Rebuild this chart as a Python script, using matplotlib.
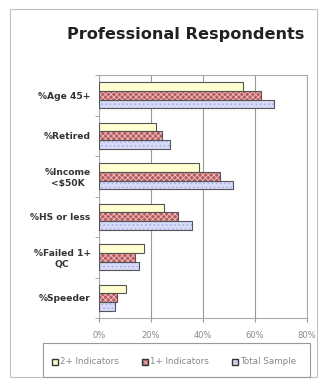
import matplotlib
matplotlib.use("Agg")
import matplotlib.pyplot as plt
from matplotlib.patches import Rectangle
import numpy as np

plt.rcParams['font.family'] = ['DejaVu Sans']
plt.rcParams['hatch.linewidth'] = 0.6

categories = ["%Age 45+", "%Retired", "%Income\n<\\$50K", "%HS or less", "%Failed 1+\nQC", "%Speeder"]
series_names = ["2+ Indicators", "1+ Indicators", "Total Sample"]
two_plus = [55.5, 22.0, 38.5, 25.0, 17.3, 10.4]
one_plus = [62.3, 24.4, 46.7, 30.4, 14.0, 7.0]
total = [67.3, 27.3, 51.6, 35.6, 15.5, 6.0]
xticks = [0, 20, 40, 60, 80]
xticklabels = ["0%", "20%", "40%", "60%", "80%"]

W, H = 325, 381
fig = plt.figure(figsize=(W / 100, H / 100), dpi=100)
fig.patch.set_facecolor('white')

# outer frame
fig.add_artist(Rectangle((10 / W, 1 - 377 / H), 307 / W, 368 / H, transform=fig.transFigure,
                         fill=False, edgecolor='#c0c0c0', linewidth=0.8))

ax = fig.add_axes([99 / W, 1 - 318 / H, 208 / W, 243 / H])
n = len(categories)
y = np.arange(n)
bh = 0.215
edge = '#555555'

# 2+ indicators: cream
ax.barh(y - bh, two_plus, height=bh, color='#ffffd0', edgecolor=edge, linewidth=0.8, zorder=3)
# 1+ indicators: red with light crosshatch
ax.barh(y, one_plus, height=bh, color='#b85a5e', edgecolor='#ecc4c4', hatch='xxxxxx', linewidth=0, zorder=3)
ax.barh(y, one_plus, height=bh, fill=False, edgecolor=edge, linewidth=0.8, zorder=4)
# total sample: lavender dotted
ax.barh(y + bh, total, height=bh, color='#d6daf8', edgecolor='#a8acdc', hatch='....', linewidth=0, zorder=3)
ax.barh(y + bh, total, height=bh, fill=False, edgecolor=edge, linewidth=0.8, zorder=4)

ax.set_xlim(0, 80)
ax.set_ylim(n - 0.5, -0.5)
ax.set_xticks(xticks)
ax.set_xticklabels(xticklabels, fontsize=6, color='#888888')
ax.set_yticks(y)
ax.set_yticklabels(categories, fontsize=6.6, fontweight='bold', color='#333333', multialignment='center')
ax.set_yticks(np.arange(n + 1) - 0.5, minor=True)
ax.tick_params(axis='y', which='major', length=0, pad=6)
ax.tick_params(axis='y', which='minor', length=3, color='#999999')
ax.tick_params(axis='x', length=3, color='#999999', pad=6)
ax.grid(axis='x', color='#9a9a9a', linewidth=0.8, zorder=0)
for s in ax.spines.values():
    s.set_color('#aaaaaa')
    s.set_linewidth(0.8)

fig.text(186 / W, 1 - 34 / H, "Professional Respondents", ha='center', va='center',
         fontsize=11.6, fontweight='bold', color='#222222')

# legend box
fig.add_artist(Rectangle((43 / W, 1 - 377 / H), 267 / W, 34 / H, transform=fig.transFigure,
                         fill=False, edgecolor='#999999', linewidth=0.8))
leg_x = [55, 145, 235]
styles = [dict(fc='#ffffd0', hatch=None, hc=None),
          dict(fc='#b85a5e', hatch='xxxx', hc='#ecc4c4'),
          dict(fc='#d6daf8', hatch='....', hc='#a8acdc')]
ly = 1 - 362 / H
for lx, name, st in zip(leg_x, series_names, styles):
    if st['hatch']:
        fig.add_artist(Rectangle(((lx - 3) / W, ly - 3 / H), 6 / W, 6 / H, transform=fig.transFigure,
                                 facecolor=st['fc'], edgecolor=st['hc'], hatch=st['hatch'], linewidth=0))
    else:
        fig.add_artist(Rectangle(((lx - 3) / W, ly - 3 / H), 6 / W, 6 / H, transform=fig.transFigure,
                                 facecolor=st['fc'], linewidth=0))
    fig.add_artist(Rectangle(((lx - 3) / W, ly - 3 / H), 6 / W, 6 / H, transform=fig.transFigure,
                             fill=False, edgecolor='#333333', linewidth=1.0))
    fig.text((lx + 5) / W, ly, name, ha='left', va='center', fontsize=6.3, color='#888888')

fig.savefig("out.png", dpi=100)
